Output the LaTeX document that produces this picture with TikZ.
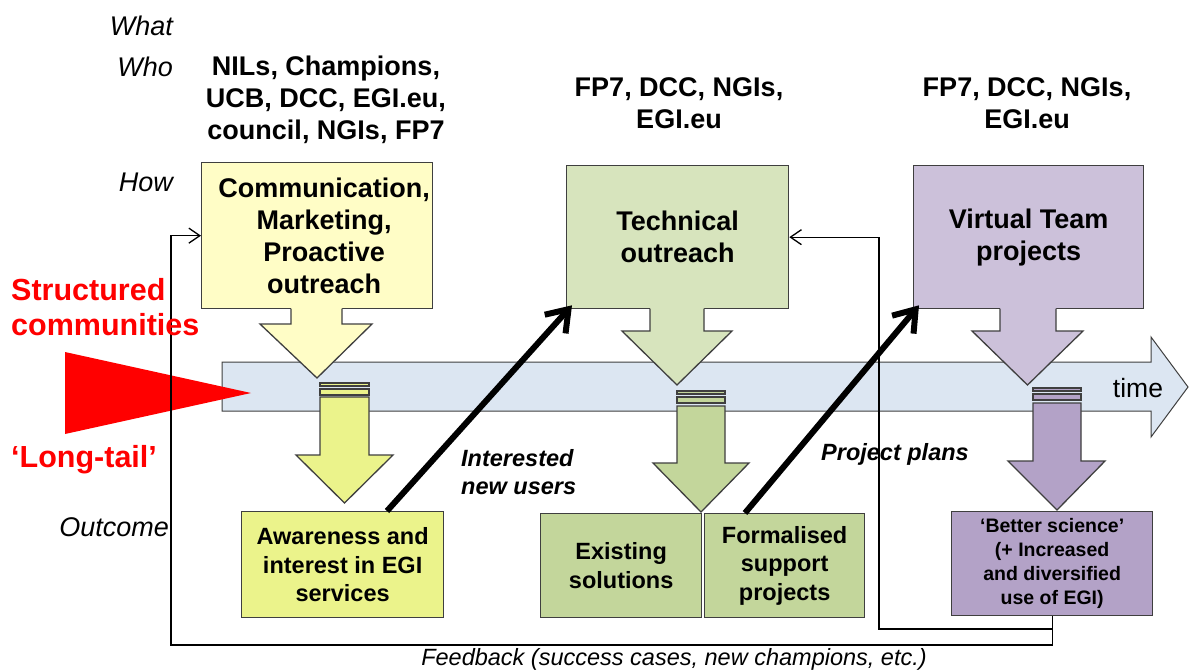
\documentclass[tikz,border=0pt]{standalone}
\usepackage{fontspec}
\setmainfont{Liberation Sans}
\usetikzlibrary{arrows.meta,calc}
\definecolor{topyellow}{HTML}{FFFDC6}
\definecolor{botyellow}{HTML}{EBF38B}
\definecolor{topgreen}{HTML}{D7E4BD}
\definecolor{botgreen}{HTML}{C3D69B}
\definecolor{toppurple}{HTML}{CCC1DA}
\definecolor{botpurple}{HTML}{B3A2C7}
\definecolor{bandblue}{HTML}{DCE6F2}
\definecolor{boxline}{HTML}{3F3F3F}
\definecolor{redtxt}{HTML}{FF0000}
\begin{document}
\begin{tikzpicture}[x=1pt,y=-1pt,
  bx/.style={draw=boxline, line width=1.3pt, inner sep=0pt, anchor=north west, align=center},
  bigtxt/.style={font=\fontsize{27pt}{32pt}\selectfont\bfseries},
  midtxt/.style={font=\fontsize{23.5pt}{28.5pt}\selectfont\bfseries},
  smalltxt/.style={font=\fontsize{19.5pt}{24pt}\selectfont\bfseries},
  lab/.style={font=\fontsize{27pt}{30pt}\selectfont\itshape, inner sep=0pt, anchor=east},
  outline/.style={draw=boxline, line width=1.3pt, line join=miter},
  fbline/.style={draw=black, line width=1.3pt},
  fbtip/.style={-{Straight Barb[length=11pt,width=15pt,line width=1.3pt]}},
  bigarrow/.style={line width=6pt, -{Straight Barb[length=20pt,width=28pt]}},
  redlab/.style={font=\fontsize{30.5pt}{35pt}\selectfont\bfseries, text=redtxt, inner sep=0pt, anchor=west, align=left}]
\useasboundingbox (0,0) rectangle (1190,670);
\fill[white] (0,0) rectangle (1190,670);

% time band
\draw[fill=bandblue, draw=boxline, line width=1pt, line join=miter]
  (222,362) -- (1151,362) -- (1151,337) -- (1188,387) -- (1151,437) -- (1151,411) -- (222,411) -- cycle;
\node[font=\fontsize{26.5pt}{30pt}\selectfont, inner sep=0pt] (time) at (1138,388) {time};

% red triangle
\fill[redtxt] (65,352) -- (251,393) -- (65,434) -- cycle;

% top boxes
\node[bx, bigtxt, fill=topyellow, minimum width=231pt, minimum height=146pt] (comm) at (201,162)
  {\hspace*{14pt}Communication,\\\hspace*{14pt}Marketing,\\\hspace*{14pt}Proactive\\\hspace*{14pt}outreach};
\node[bx, bigtxt, fill=topgreen, minimum width=222pt, minimum height=143pt] (tech) at (566,165)
  {Technical\\outreach};
\node[bx, bigtxt, fill=toppurple, minimum width=230pt, minimum height=143pt] (vt) at (913,165)
  {Virtual Team\\projects};

% bottom boxes
\node[bx, midtxt, fill=botyellow, minimum width=202pt, minimum height=106pt] (aware) at (241,511)
  {Awareness and\\interest in EGI\\services};
\node[bx, midtxt, fill=botgreen, minimum width=161pt, minimum height=104pt] (exist) at (540,513)
  {Existing\\solutions};
\node[bx, midtxt, fill=botgreen, minimum width=160pt, minimum height=104pt] (formal) at (704,513)
  {Formalised\\support\\projects};
\node[bx, smalltxt, fill=botpurple, minimum width=201pt, minimum height=104pt] (better) at (951,511)
  {‘Better science’\\(+ Increased\\and diversified\\use of EGI)};

% top block arrows
\fill[topyellow] (291,307) -- (291,324) -- (260,324) -- (317,378) -- (372,324) -- (342,324) -- (342,307) -- cycle;
\draw[outline] (291,308.6) -- (291,324) -- (260,324) -- (317,378) -- (372,324) -- (342,324) -- (342,308.6);
\fill[topgreen] (650,307) -- (650,331) -- (622,331) -- (677,385) -- (732,331) -- (704,331) -- (704,307) -- cycle;
\draw[outline] (650,308.6) -- (650,331) -- (622,331) -- (677,385) -- (732,331) -- (704,331) -- (704,308.6);
\fill[toppurple] (1000,307) -- (1000,331) -- (972,331) -- (1027.5,385) -- (1083,331) -- (1056,331) -- (1056,307) -- cycle;
\draw[outline] (1000,308.6) -- (1000,331) -- (972,331) -- (1027.5,385) -- (1083,331) -- (1056,331) -- (1056,308.6);

% bands and lower block arrows
\draw[outline, fill=botyellow] (320,383) rectangle (369,386);
\draw[outline, fill=botyellow] (320,389) rectangle (369,395);
\draw[outline, fill=botyellow] (320,397) -- (369,397) -- (369,455) -- (393,455) -- (344.5,503) -- (296,455) -- (320,455) -- cycle;
\draw[outline, fill=botgreen] (677,391) rectangle (725,394);
\draw[outline, fill=botgreen] (677,397) rectangle (725,403);
\draw[outline, fill=botgreen] (677,406) -- (725,406) -- (725,463) -- (749,463) -- (701,512) -- (653,463) -- (677,463) -- cycle;
\draw[outline, fill=botpurple] (1033,388) rectangle (1081,391);
\draw[outline, fill=botpurple] (1033,394) rectangle (1081,400);
\draw[outline, fill=botpurple] (1033,403) -- (1081,403) -- (1081,461) -- (1105,461) -- (1057,510) -- (1008,461) -- (1033,461) -- cycle;

% feedback lines
\coordinate (fbL) at (171,645);
\coordinate (fbM) at (879,629);
\draw[fbline, fbtip] (better.south) |- (fbL) |- (comm.west);
\draw[fbline, fbtip] (better.south |- fbM) -- (fbM) |- (tech.east);
\node[font=\fontsize{23.5pt}{28pt}\selectfont\itshape, inner sep=0pt] (fb) at (674,659)
  {Feedback (success cases, new champions, etc.)};

% thick black arrows
\coordinate (s1) at (387,511);
\coordinate (s2) at (745,513);
\draw[bigarrow] (s1) -- ($(tech.south west)+(6,-4)$);
\draw[bigarrow] (s2) -- ($(vt.south west)+(6,-4)$);
\node[font=\fontsize{23.5pt}{28pt}\selectfont\bfseries\itshape, inner sep=0pt, anchor=west, align=left] (newusers) at (461,472)
  {Interested\\new users};
\node[font=\fontsize{23.5pt}{28pt}\selectfont\bfseries\itshape, inner sep=0pt, anchor=west] (plans) at (821,454)
  {Project plans};

% row labels
\node[lab] (what) at (173,26) {What};
\node[lab] (who) at (173,67) {Who};
\node[lab] (how) at (173,182) {How};
\node[lab] (outcome) at (169,527) {Outcome};

% who texts
\node[bigtxt, inner sep=0pt, align=center] (who1) at (326,100) {NILs, Champions,\\UCB, DCC, EGI.eu,\\council, NGIs, FP7};
\node[bigtxt, inner sep=0pt, align=center] (who2) at (679,103) {FP7, DCC, NGIs,\\EGI.eu};
\node[bigtxt, inner sep=0pt, align=center] (who3) at (1027,103) {FP7, DCC, NGIs,\\EGI.eu};

% red labels
\node[redlab] (struct) at (11,307) {Structured\\communities};
\node[redlab] (longtail) at (11,460) {‘Long-tail’};
\end{tikzpicture}
\end{document}
